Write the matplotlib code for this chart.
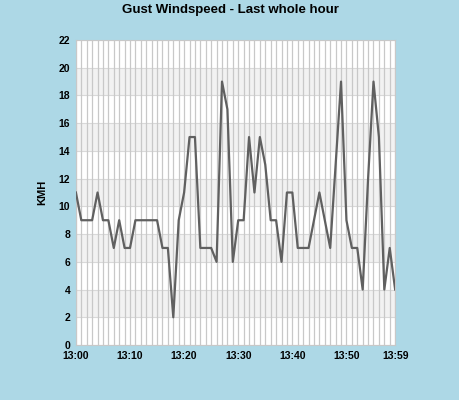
import numpy as np
import matplotlib
matplotlib.use('Agg')
import matplotlib.pyplot as plt

plt.rcParams['font.family'] = ['Liberation Sans', 'DejaVu Sans']

# minutes past 13:00 and gust speed (km/h)
minutes = list(range(60))
gust = [11, 9, 9, 9, 11, 9, 9, 7, 9, 7,
        7, 9, 9, 9, 9, 9, 7, 7, 2, 9,
        11, 15, 15, 7, 7, 7, 6, 19, 17, 6,
        9, 9, 15, 11, 15, 13, 9, 9, 6, 11,
        11, 7, 7, 7, 9, 11, 9, 7, 13, 19,
        9, 7, 7, 4, 12, 19, 15, 4, 7, 4]
tick_pos = [0, 10, 20, 30, 40, 50, 59]
tick_labels = ['13:00', '13:10', '13:20', '13:30', '13:40', '13:50', '13:59']
y_ticks = list(range(0, 23, 2))

fig = plt.figure(figsize=(4.6, 4.0), dpi=100, facecolor='#add8e6')
ax = fig.add_axes([0.165, 0.1375, 0.694, 0.7625])
ax.set_facecolor('white')

# alternating bands
for lo in range(2, 22, 4):
    ax.axhspan(lo, lo + 2, color='#f2f2f2', zorder=0, lw=0)
for y in y_ticks:
    ax.axhline(y, color='#d9d9d9', lw=0.8, zorder=1)
for m in minutes:
    ax.axvline(m, color='#c8c8c8', lw=0.9, zorder=1)

ax.plot(minutes, gust, color='#606060', lw=1.6, zorder=3)

ax.set_xlim(0, 59)
ax.set_ylim(0, 22)
ax.set_xticks(tick_pos)
ax.set_xticklabels(tick_labels)
ax.set_yticks(y_ticks)
ax.tick_params(length=0, labelsize=7.5, pad=4, colors='black')
for lab in ax.get_xticklabels() + ax.get_yticklabels():
    lab.set_fontweight('bold')
for sp in ax.spines.values():
    sp.set_color('#c8c8c8')
    sp.set_linewidth(0.8)

ax.set_ylabel('KMH', fontsize=8, fontweight='bold', labelpad=8)
fig.text(0.5, 0.975, 'Gust Windspeed - Last whole hour', ha='center', va='center',
         fontsize=9.5, fontweight='bold')

fig.savefig('out.png', dpi=100, facecolor=fig.get_facecolor())
